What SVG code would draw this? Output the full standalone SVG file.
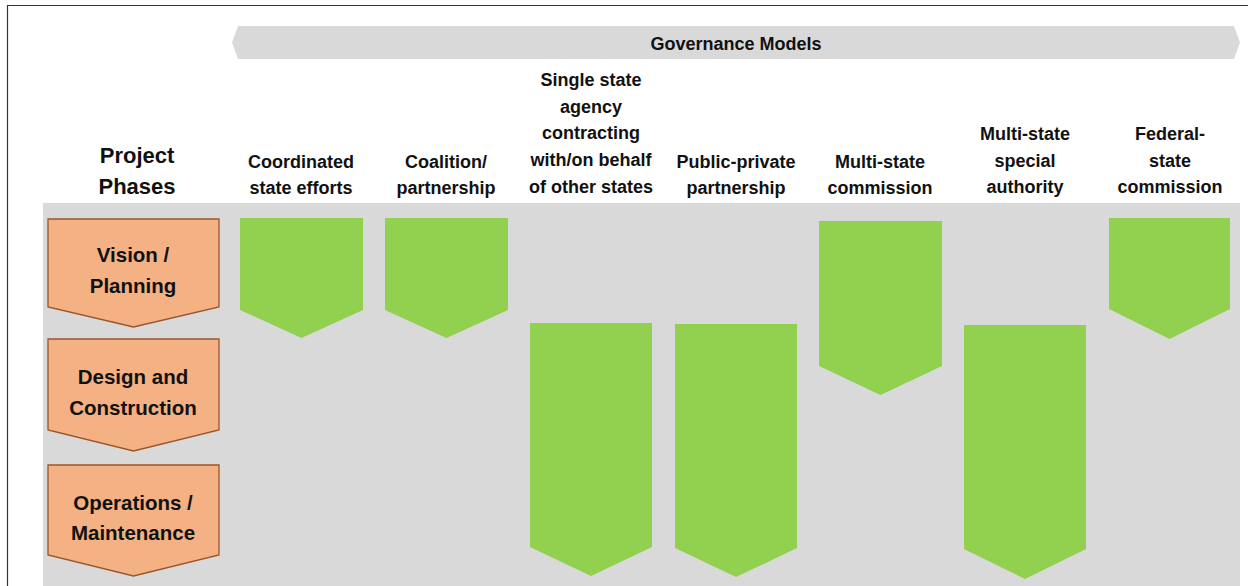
<svg xmlns="http://www.w3.org/2000/svg" width="1248" height="586" viewBox="0 0 1248 586">
<style>
.t{font-family:"Liberation Sans",Arial,sans-serif;font-weight:bold;fill:#111;text-anchor:middle}
.h{font-size:18px}
.p{font-size:20.5px}
.pp{font-size:22px}
.g{fill:#92d050}
.o{fill:#f4b183;stroke:#9a5528;stroke-width:1.3}
</style>
<rect x="0" y="0" width="1248" height="586" fill="#fff"/>
<path d="M7.5 586 V5.5 H1248" fill="none" stroke="#333" stroke-width="1.2"/>
<g id="header">
<polygon points="238,26 1234,26 1240,42.5 1234,59 238,59 232,42.5" fill="#d9d9d9"/>
<text class="t h" x="736" y="50">Governance Models</text>
</g>
<rect id="panel" x="43" y="203" width="1197" height="383" fill="#d9d9d9"/>
<g id="project-phases-title"><text class="t pp" x="137" y="163">Project</text><text class="t pp" x="137" y="194">Phases</text></g>
<g id="col-labels">
<text class="t h" x="301" y="168">Coordinated</text><text class="t h" x="301" y="194">state efforts</text>
<text class="t h" x="446" y="168">Coalition/</text><text class="t h" x="446" y="194">partnership</text>
<text class="t h" x="591" y="86">Single state</text><text class="t h" x="591" y="113">agency</text><text class="t h" x="591" y="139">contracting</text><text class="t h" x="591" y="166">with/on behalf</text><text class="t h" x="591" y="193">of other states</text>
<text class="t h" x="736" y="168">Public-private</text><text class="t h" x="736" y="194">partnership</text>
<text class="t h" x="880" y="168">Multi-state</text><text class="t h" x="880" y="194">commission</text>
<text class="t h" x="1025" y="140">Multi-state</text><text class="t h" x="1025" y="167">special</text><text class="t h" x="1025" y="193">authority</text>
<text class="t h" x="1170" y="140">Federal-</text><text class="t h" x="1170" y="167">state</text><text class="t h" x="1170" y="193">commission</text>
</g>
<g id="phase-vision"><polygon class="o" points="48,219 219,219 219,307 133.5,327 48,307"/><text class="t p" x="133" y="262">Vision /</text><text class="t p" x="133" y="293">Planning</text></g>
<g id="phase-design"><polygon class="o" points="48,339 219,339 219,430 133.5,451 48,430"/><text class="t p" x="133" y="384">Design and</text><text class="t p" x="133" y="415">Construction</text></g>
<g id="phase-operations"><polygon class="o" points="48,465 219,465 219,555 133.5,576 48,555"/><text class="t p" x="133" y="510">Operations /</text><text class="t p" x="133" y="540">Maintenance</text></g>
<g id="bar-coordinated"><polygon class="g" points="240,218 363,218 363,310 301.5,338 240,310"/></g>
<g id="bar-coalition"><polygon class="g" points="385,218 508,218 508,310 446.5,338 385,310"/></g>
<g id="bar-single-state"><polygon class="g" points="530,323 652,323 652,547 591,576 530,547"/></g>
<g id="bar-ppp"><polygon class="g" points="675,324 797,324 797,548 736,577 675,548"/></g>
<g id="bar-multistate-commission"><polygon class="g" points="819,221 942,221 942,366 880.5,395 819,366"/></g>
<g id="bar-special-authority"><polygon class="g" points="964,325 1086,325 1086,549 1025,579 964,549"/></g>
<g id="bar-federal-state"><polygon class="g" points="1109,218 1230,218 1230,309 1169.5,339 1109,309"/></g>
<g id="connectors"></g>
</svg>
